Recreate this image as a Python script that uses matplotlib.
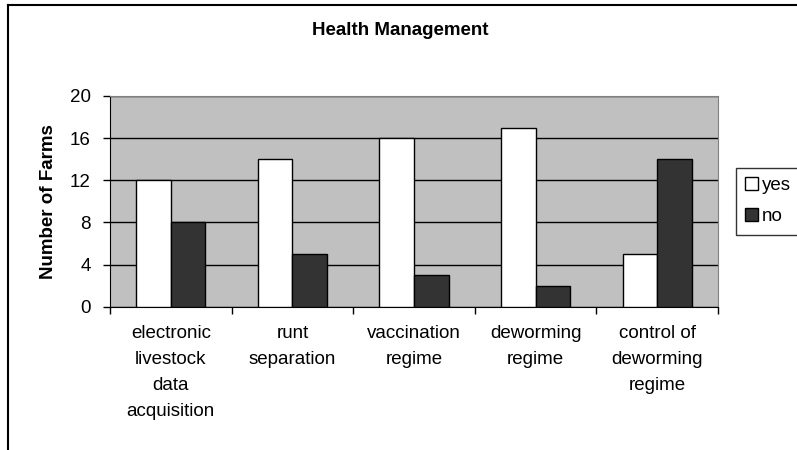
import matplotlib.pyplot as plt
import numpy as np
from matplotlib.lines import Line2D

categories = ['electronic\nlivestock\ndata\nacquisition', 'runt\nseparation',
              'vaccination\nregime', 'deworming\nregime', 'control of\ndeworming\nregime']
yes = [12, 14, 16, 17, 5]
no = [8, 5, 3, 2, 14]
yticks = [0, 4, 8, 12, 16, 20]

plt.rcParams['font.family'] = ['Liberation Sans', 'DejaVu Sans']
fs = 13.5

fig = plt.figure(figsize=(7.97, 4.5), dpi=100)
ax = fig.add_axes([0.138, 0.318, 0.763, 0.469])
ax.set_facecolor('#c0c0c0')

x = np.arange(len(categories)) + 0.5
w = 0.285
ax.bar(x - w / 2, yes, w, color='white', edgecolor='black', linewidth=1, label='yes', zorder=3)
ax.bar(x + w / 2, no, w, color='#333333', edgecolor='black', linewidth=1, label='no', zorder=3)

ax.set_xlim(0, len(categories))
ax.set_ylim(0, 20)
ax.set_yticks(yticks)
ax.yaxis.grid(True, color='black', linewidth=1, zorder=1)
ax.set_axisbelow(True)

ax.set_xticks(x)
ax.set_xticklabels(categories, fontsize=fs, linespacing=1.7)
ax.set_xticks(np.arange(len(categories) + 1), minor=True)
ax.tick_params(axis='x', which='major', length=0, pad=13)
ax.tick_params(axis='x', which='minor', length=5, width=1, direction='out')
ax.tick_params(axis='y', length=5, width=1, direction='out', labelsize=fs, pad=9)

for s in ['top', 'right']:
    ax.spines[s].set_color('#808080')
ax.spines['left'].set_color('black')
ax.spines['bottom'].set_color('black')

ax.set_ylabel('Number of Farms', fontsize=fs, fontweight='bold', labelpad=9)
fig.text(0.502, 0.932, 'Health Management', ha='center', va='center', fontsize=fs, fontweight='bold')

leg = fig.legend(loc='center left', bbox_to_anchor=(0.923, 0.553), fontsize=fs,
                 frameon=True, fancybox=False, edgecolor='black', handlelength=0.7,
                 handleheight=0.7, handletextpad=0.2, labelspacing=0.75, borderpad=0.5,
                 borderaxespad=0)
leg.get_frame().set_linewidth(1)

# outer chart frame (partially visible)
fig.add_artist(Line2D([8 / 797, 1.0], [1 - 5 / 450, 1 - 5 / 450], color='black', linewidth=1.5))
fig.add_artist(Line2D([8 / 797, 8 / 797], [0, 1 - 5 / 450], color='black', linewidth=1.5))

fig.savefig('out.png', dpi=100)
